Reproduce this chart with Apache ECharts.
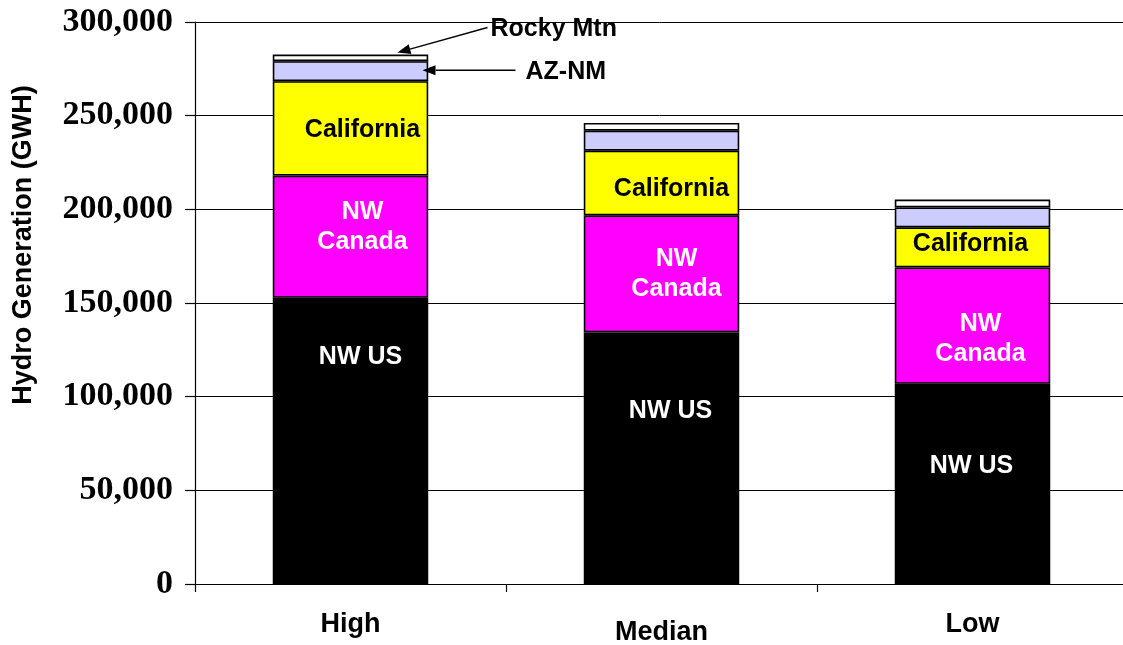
<!DOCTYPE html>
<html>
<head>
<meta charset="utf-8">
<script src="https://cdn.jsdelivr.net/npm/echarts@6/dist/echarts.min.js"></script>
<style>
  html, body { margin: 0; padding: 0; background: #ffffff; }
  #chart { width: 1123px; height: 645px; }
</style>
</head>
<body>
<div id="chart"></div>
<script>
// Hydro generation by region under high / median / low water conditions (GWH)
const categories = ['High', 'Median', 'Low'];
const nwUS       = [152800, 134300, 106900];
const nwCanada   = [65200, 62500, 62100];
const california = [50400, 34500, 21400];
const azNM       = [10700, 10700, 10600];
const rockyMtn   = [3500, 4100, 4200];
const yTicks     = [0, 50000, 100000, 150000, 200000, 250000, 300000];

// in-bar label nudges [dx, dy] in pixels, one per category
const nwUSLabelShift       = [[10, -84], [9, -47], [-1, -18]];
const nwCanadaLabelShift   = [[12, -10], [15, 0], [8, 14]];
const californiaLabelShift = [[12, 2], [10, 6], [-2, -3]];

const SANS = '"Liberation Sans", Arial, sans-serif';
const SERIF = '"Liberation Serif", "Times New Roman", serif';

const chart = echarts.init(document.getElementById('chart'), null, { renderer: 'canvas' });

function withLabels(values, text, shifts, color) {
  return values.map((v, i) => ({
    value: v,
    label: {
      show: true,
      position: 'inside',
      formatter: text,
      offset: shifts[i],
      color: color,
      fontFamily: SANS,
      fontWeight: 'bold',
      fontSize: 25,
      lineHeight: 30
    }
  }));
}

const barBorder = { borderColor: '#000000', borderWidth: 1.6 };

chart.setOption({
  animation: false,
  backgroundColor: '#ffffff',
  grid: {
    left: 195, top: 22, bottom: 61, width: 933,
    containLabel: false, outerBoundsMode: 'none'
  },
  xAxis: {
    type: 'category',
    data: categories,
    axisLine: { lineStyle: { color: '#000000', width: 1.2 } },
    axisTick: { show: true, length: 8, alignWithLabel: false, lineStyle: { color: '#000000', width: 1.2 } },
    axisLabel: {
      margin: 27,
      color: '#000000',
      fontFamily: SANS,
      fontWeight: 'bold',
      fontSize: 27,
      formatter: v => v === 'Median' ? '{m|' + v + '}' : v,
      rich: {
        m: { fontFamily: SANS, fontWeight: 'bold', fontSize: 27, color: '#000000', padding: [8, 0, 0, 0] }
      }
    }
  },
  yAxis: {
    type: 'value',
    min: yTicks[0],
    max: yTicks[yTicks.length - 1],
    interval: yTicks[1] - yTicks[0],
    name: 'Hydro Generation (GWH)',
    nameLocation: 'middle',
    nameGap: 158,
    nameRotate: 90,
    nameTextStyle: {
      color: '#000000',
      fontFamily: SANS,
      fontWeight: 'bold',
      fontSize: 27,
      padding: [0, 0, 0, 116]
    },
    axisLine: { show: true, lineStyle: { color: '#000000', width: 1.2 } },
    axisTick: { show: true, length: 10, lineStyle: { color: '#000000', width: 1.2 } },
    splitLine: { show: true, lineStyle: { color: '#000000', width: 1 } },
    axisLabel: {
      margin: 22,
      color: '#000000',
      fontFamily: SERIF,
      fontWeight: 'bold',
      fontSize: 34,
      formatter: v => v.toLocaleString('en-US')
    }
  },
  series: [
    {
      name: 'NW US', type: 'bar', stack: 'hydro', barWidth: '50%',
      itemStyle: Object.assign({ color: '#000000' }, barBorder),
      data: withLabels(nwUS, 'NW US', nwUSLabelShift, '#ffffff')
    },
    {
      name: 'NW Canada', type: 'bar', stack: 'hydro',
      itemStyle: Object.assign({ color: '#FF00FF' }, barBorder),
      data: withLabels(nwCanada, 'NW\nCanada', nwCanadaLabelShift, '#ffffff')
    },
    {
      name: 'California', type: 'bar', stack: 'hydro',
      itemStyle: Object.assign({ color: '#FFFF00' }, barBorder),
      data: withLabels(california, 'California', californiaLabelShift, '#000000')
    },
    {
      name: 'AZ-NM', type: 'bar', stack: 'hydro',
      itemStyle: Object.assign({ color: '#CCCCFF' }, barBorder),
      data: azNM
    },
    {
      name: 'Rocky Mtn', type: 'bar', stack: 'hydro',
      itemStyle: Object.assign({ color: '#FFFFFF' }, barBorder),
      data: rockyMtn
    }
  ]
});

// Callout arrows pointing at the two thin top segments of the first bar
function arrow(tail, tip) {
  const ang = Math.atan2(tip[1] - tail[1], tip[0] - tail[0]);
  const len = 13, half = 5;
  const bx = tip[0] - len * Math.cos(ang), by = tip[1] - len * Math.sin(ang);
  const nx = -Math.sin(ang) * half, ny = Math.cos(ang) * half;
  return [
    { type: 'line', shape: { x1: tail[0], y1: tail[1], x2: bx, y2: by },
      style: { stroke: '#000000', lineWidth: 1.5 }, z: 100 },
    { type: 'polygon', shape: { points: [tip, [bx + nx, by + ny], [bx - nx, by - ny]] },
      style: { fill: '#000000' }, z: 100 }
  ];
}

const i0 = 0;
const topTotal = nwUS[i0] + nwCanada[i0] + california[i0] + azNM[i0] + rockyMtn[i0];
const azMid = nwUS[i0] + nwCanada[i0] + california[i0] + azNM[i0] / 2;
const rockyTip = chart.convertToPixel({ xAxisIndex: 0, yAxisIndex: 0 }, [categories[i0], topTotal]);
const azTip = chart.convertToPixel({ xAxisIndex: 0, yAxisIndex: 0 }, [categories[i0], azMid]);

const rTip = [rockyTip[0] + 47, rockyTip[1] - 2];
const rTail = [rTip[0] + 90, rTip[1] - 25];
const aTip = [azTip[0] + 72, azTip[1] - 1];
const aTail = [aTip[0] + 93, aTip[1]];

chart.setOption({
  graphic: [
    ...arrow(rTail, rTip),
    ...arrow(aTail, aTip),
    { type: 'text', x: rTail[0] + 3, y: rTail[1] + 2, z: 101,
      style: { text: 'Rocky Mtn', fill: '#000000', font: 'bold 25px ' + SANS,
               textAlign: 'left', textVerticalAlign: 'middle' } },
    { type: 'text', x: aTail[0] + 10, y: aTail[1] + 2, z: 101,
      style: { text: 'AZ-NM', fill: '#000000', font: 'bold 25px ' + SANS,
               textAlign: 'left', textVerticalAlign: 'middle' } }
  ]
});
</script>
</body>
</html>
